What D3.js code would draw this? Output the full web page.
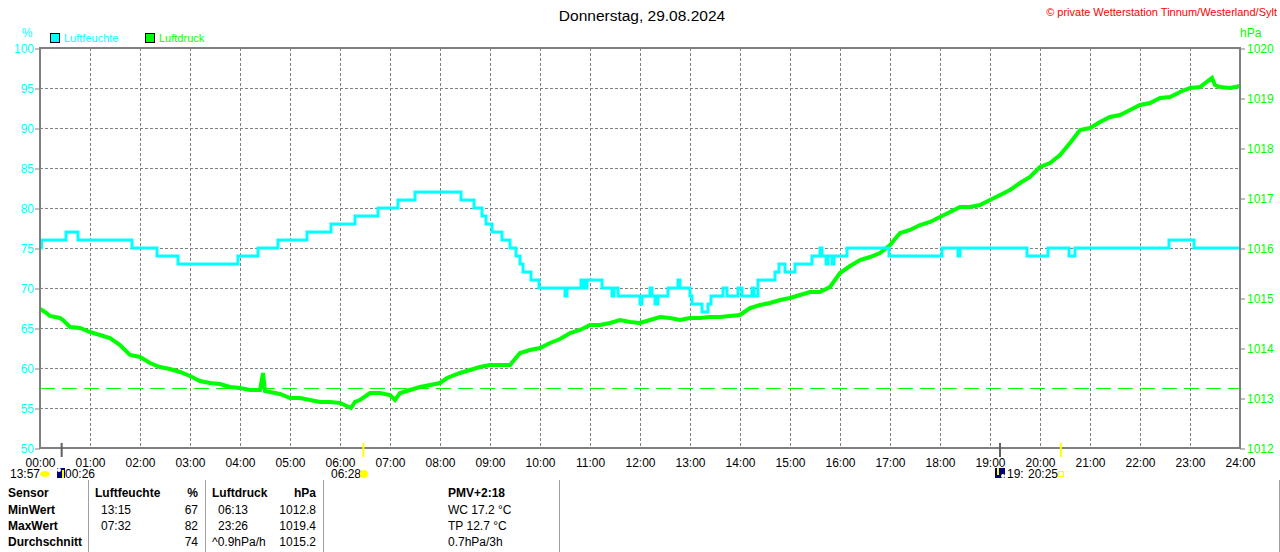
<!DOCTYPE html>
<html>
<head>
<meta charset="utf-8">
<script src="https://cdn.jsdelivr.net/npm/d3@7"></script>
<style>
  body { margin:0; background:#fff; }
  svg text { font-family: "Liberation Sans", Arial, sans-serif; font-size:12px; }
</style>
</head>
<body>
<div id="chart"></div>
<script>

// --- data (hours since midnight, value) ---
var hourLabels = ["00:00","01:00","02:00","03:00","04:00","05:00","06:00","07:00","08:00","09:00","10:00","11:00","12:00",
                  "13:00","14:00","15:00","16:00","17:00","18:00","19:00","20:00","21:00","22:00","23:00","24:00"];
var humTicks = [50,55,60,65,70,75,80,85,90,95,100];
var presTicks = [1012,1013,1014,1015,1016,1017,1018,1019,1020];

// Luftfeuchte %, step values
var humidity = [
  [0,75],[0.03,76],[0.52,77],[0.76,76],[1.84,75],[2.34,74],[2.76,73],[3.96,74],[4.36,75],[4.76,76],
  [5.34,77],[5.82,78],[6.3,79],[6.76,80],[7.16,81],[7.5,82],[8.42,81],[8.68,80],[8.84,79],[8.92,78],
  [9.04,77],[9.24,76],[9.4,75],[9.52,74],[9.6,73],[9.66,72],[9.82,71],[9.98,70],[10.5,69],[10.54,70],
  [10.82,71],[10.88,70],[10.94,71],[11.24,70],[11.44,69],[11.48,70],[11.56,69],[12.0,68],[12.04,69],
  [12.2,70],[12.24,69],[12.3,68],[12.36,69],[12.56,70],[12.76,71],[12.8,70],[13.0,69],[13.04,68],
  [13.24,67],[13.36,68],[13.42,69],[13.66,70],[13.74,69],[13.96,70],[14.04,69],[14.24,70],[14.28,69],
  [14.36,71],[14.7,72],[14.78,73],[14.9,72],[15.1,73],[15.44,74],[15.6,75],[15.64,74],[15.72,73],
  [15.76,74],[15.84,73],[15.88,74],[16.14,75],[16.98,74],[18.04,75],[18.36,74],[18.4,75],[19.74,74],
  [20.16,75],[20.58,74],[20.7,75],[22.58,76],[23.08,75],[24,75]
];

// Luftdruck hPa
var pressure = [
  [0,1014.78],[0.1,1014.72],[0.2,1014.64],[0.4,1014.6],[0.46,1014.56],[0.6,1014.42],[0.8,1014.4],
  [1.0,1014.32],[1.2,1014.26],[1.4,1014.2],[1.6,1014.06],[1.8,1013.86],[2.0,1013.82],[2.2,1013.7],
  [2.4,1013.62],[2.6,1013.58],[2.8,1013.52],[3.0,1013.44],[3.2,1013.34],[3.4,1013.3],[3.6,1013.28],
  [3.8,1013.22],[4.0,1013.2],[4.2,1013.16],[4.4,1013.16],[4.46,1013.5],[4.5,1013.14],[4.6,1013.12],
  [4.8,1013.08],[5.0,1013.0],[5.2,1013.0],[5.4,1012.96],[5.6,1012.92],[5.8,1012.92],[6.0,1012.9],
  [6.22,1012.8],[6.3,1012.92],[6.4,1012.96],[6.6,1013.1],[6.8,1013.1],[7.0,1013.06],[7.1,1012.96],
  [7.2,1013.1],[7.4,1013.16],[7.6,1013.22],[7.8,1013.26],[8.0,1013.3],[8.14,1013.4],[8.4,1013.5],
  [8.6,1013.56],[8.8,1013.62],[9.0,1013.66],[9.2,1013.66],[9.4,1013.66],[9.6,1013.9],[9.8,1013.96],
  [10.0,1014.0],[10.2,1014.1],[10.4,1014.18],[10.6,1014.3],[10.8,1014.36],[11.0,1014.46],[11.2,1014.46],
  [11.4,1014.5],[11.6,1014.56],[11.8,1014.52],[12.0,1014.5],[12.2,1014.56],[12.4,1014.62],[12.6,1014.6],
  [12.8,1014.56],[13.0,1014.6],[13.2,1014.6],[13.4,1014.62],[13.6,1014.62],[13.8,1014.64],[14.0,1014.66],
  [14.2,1014.8],[14.4,1014.86],[14.6,1014.9],[14.8,1014.96],[15.0,1015.0],[15.2,1015.06],[15.4,1015.12],
  [15.6,1015.12],[15.8,1015.22],[16.0,1015.5],[16.2,1015.64],[16.4,1015.76],[16.6,1015.82],[16.8,1015.9],
  [17.0,1016.06],[17.2,1016.3],[17.4,1016.36],[17.6,1016.46],[17.8,1016.52],[18.0,1016.62],[18.2,1016.72],
  [18.4,1016.82],[18.6,1016.82],[18.8,1016.86],[19.0,1016.96],[19.2,1017.06],[19.4,1017.16],[19.6,1017.3],
  [19.8,1017.42],[20.0,1017.62],[20.2,1017.7],[20.4,1017.86],[20.6,1018.1],[20.8,1018.36],[21.0,1018.4],
  [21.2,1018.52],[21.4,1018.62],[21.6,1018.66],[21.8,1018.76],[22.0,1018.86],[22.2,1018.9],[22.4,1019.0],
  [22.6,1019.02],[22.8,1019.12],[23.0,1019.2],[23.2,1019.22],[23.44,1019.4],[23.5,1019.26],[23.6,1019.22],
  [23.8,1019.2],[24,1019.24]
];

var refPressure = 1013.2;

// sun / moon events on time axis
var events = [
  {h:0.4333, color:"#606060"},
  {h:6.4667, color:"#ffff00"},
  {h:19.2,   color:"#606060"},
  {h:20.4167,color:"#ffff00"}
];

// table rows
var tableRows = [
  ["Sensor","Luftfeuchte","%","Luftdruck","hPa","PMV+2:18"],
  ["MinWert","13:15","67","06:13","1012.8","WC 17.2 °C"],
  ["MaxWert","07:32","82","23:26","1019.4","TP 12.7 °C"],
  ["Durchschnitt","","74","^0.9hPa/h","1015.2","0.7hPa/3h"]
];

var W = 1280, H = 552;
var svg = d3.select("#chart").append("svg").attr("width",W).attr("height",H);
svg.append("rect").attr("width",W).attr("height",H).attr("fill","#fff");

var x = d3.scaleLinear().domain([0,24]).range([40,1240]);
var yH = d3.scaleLinear().domain([50,100]).range([448,48]);
var yP = d3.scaleLinear().domain([1012,1020]).range([448,48]);

// grid
svg.append("g").selectAll("line").data(d3.range(1,24)).enter().append("line")
  .attr("x1",function(d){return x(d)+0.5;}).attr("x2",function(d){return x(d)+0.5;})
  .attr("y1",48).attr("y2",448)
  .attr("stroke","#808080").attr("stroke-dasharray","3,2");
svg.append("g").selectAll("line").data(humTicks.slice(1,-1)).enter().append("line")
  .attr("x1",40).attr("x2",1240)
  .attr("y1",function(d){return yH(d)+0.5;}).attr("y2",function(d){return yH(d)+0.5;})
  .attr("stroke","#808080").attr("stroke-dasharray","3,2");

// left axis (humidity)
var axL = svg.append("g").attr("transform","translate(40,0.5)")
  .call(d3.axisLeft(yH).tickValues(humTicks).tickSize(5).tickPadding(1));
axL.select(".domain").remove();
axL.selectAll("line").attr("stroke","#808080");
axL.selectAll("text").attr("fill","#00ffff").style("font-size","12px");

// right axis (pressure)
var axR = svg.append("g").attr("transform","translate(1240,0.5)")
  .call(d3.axisRight(yP).tickValues(presTicks).tickSize(5).tickPadding(2).tickFormat(d3.format("d")));
axR.select(".domain").remove();
axR.selectAll("line").attr("stroke","#808080");
axR.selectAll("text").attr("fill","#00ff00").style("font-size","12px");

// bottom axis labels
var axB = svg.append("g").attr("transform","translate(0,449)")
  .call(d3.axisBottom(x).tickValues(d3.range(0,25)).tickSize(0).tickPadding(9)
    .tickFormat(function(d,i){return hourLabels[i];}));
axB.select(".domain").remove();
axB.selectAll("text").attr("fill","#000").style("font-size","12px");

// reference line
var yRef = Math.round(yP(refPressure)) + 0.5;
svg.append("line").attr("x1",40).attr("x2",1240)
  .attr("y1",yRef).attr("y2",yRef)
  .attr("stroke","#00ff00").attr("stroke-width",1.2).attr("stroke-dasharray","15,7");

// lines
var lineH = d3.line().curve(d3.curveStepAfter)
  .x(function(d){return x(d[0]);}).y(function(d){return yH(d[1]);});
var lineP = d3.line()
  .x(function(d){return x(d[0]);}).y(function(d){return yP(d[1]);});

svg.append("path").datum(pressure).attr("d",lineP)
  .attr("fill","none").attr("stroke","#00ff00").attr("stroke-width",4);
svg.append("path").datum(humidity).attr("d",lineH)
  .attr("fill","none").attr("stroke","#00ffff").attr("stroke-width",3);

// frame
svg.append("rect").attr("x",40).attr("y",48).attr("width",1200).attr("height",400)
  .attr("fill","none").attr("stroke","#808080").attr("stroke-width",2);

// event ticks
svg.append("g").selectAll("line").data(events).enter().append("line")
  .attr("x1",function(d){return x(d.h);}).attr("x2",function(d){return x(d.h);})
  .attr("y1",443).attr("y2",457)
  .attr("stroke",function(d){return d.color;}).attr("stroke-width",2);

// titles
svg.append("text").attr("x",642).attr("y",21).attr("text-anchor","middle")
  .style("font-size","15.5px").text("Donnerstag, 29.08.2024");
svg.append("text").attr("x",1277).attr("y",16).attr("text-anchor","end")
  .attr("fill","#ff0000").style("font-size","11px")
  .text("© private Wetterstation Tinnum/Westerland/Sylt");
svg.append("text").attr("x",27).attr("y",37).attr("text-anchor","middle")
  .attr("fill","#00ffff").text("%");
svg.append("text").attr("x",1240).attr("y",37).attr("fill","#00ff00").text("hPa");

// legend
svg.append("rect").attr("x",50.5).attr("y",33.5).attr("width",9).attr("height",9)
  .attr("fill","#00ffff").attr("stroke","#000");
svg.append("text").attr("x",64).attr("y",42).attr("fill","#00ffff").style("font-size","11px").text("Luftfeuchte");
svg.append("rect").attr("x",145.5).attr("y",33.5).attr("width",9).attr("height",9)
  .attr("fill","#00ff00").attr("stroke","#000");
svg.append("text").attr("x",159).attr("y",42).attr("fill","#00ff00").style("font-size","11px").text("Luftdruck");

// sun / moon labels under axis
svg.append("text").attr("x",10).attr("y",478).text("13:57");
svg.append("ellipse").attr("cx",45).attr("cy",474).attr("rx",5).attr("ry",3).attr("fill","#ffff00");
svg.append("rect").attr("x",57).attr("y",468).attr("width",8).attr("height",10).attr("fill","#000080");
svg.append("circle").attr("cx",59).attr("cy",470).attr("r",2).attr("fill","#fff");
svg.append("line").attr("x1",63).attr("x2",63).attr("y1",470).attr("y2",478).attr("stroke","#ffff00").attr("stroke-width",2);
svg.append("text").attr("x",65).attr("y",478).text("00:26");
svg.append("text").attr("x",331).attr("y",478).text("06:28");
svg.append("circle").attr("cx",364).attr("cy",474).attr("r",4).attr("fill","#ffff00");
svg.append("rect").attr("x",995).attr("y",468).attr("width",10).attr("height",10).attr("fill","#000080");
svg.append("line").attr("x1",998).attr("x2",998).attr("y1",468).attr("y2",475).attr("stroke","#ffff00").attr("stroke-width",2);
svg.append("circle").attr("cx",1003).attr("cy",476).attr("r",2).attr("fill","#fff");
svg.append("text").attr("x",1007).attr("y",478).text("19:");
svg.append("text").attr("x",1028).attr("y",478).text("20:25");
svg.append("rect").attr("x",1058.5).attr("y",471.5).attr("width",5).attr("height",5)
  .attr("fill","none").attr("stroke","#ffff00");

// table
var colX = [8,101,198,218,316,448];
var colAnchor = ["start","start","end","start","end","start"];
var rowY = [497,514,530,546];
tableRows.forEach(function(row,r){
  row.forEach(function(cell,c){
    var cx = colX[c];
    if (r==0 && c==1) cx = 95;
    if (r==0 && c==3) cx = 212;
    if (r==3 && c==3) cx = 212;
    svg.append("text").attr("x",cx).attr("y",rowY[r]).attr("text-anchor",colAnchor[c])
      .style("font-weight",(r==0 || c==0) ? "bold" : "normal")
      .text(cell);
  });
});
svg.append("g").selectAll("line").data([88,205,323,559,1279]).enter().append("line")
  .attr("x1",function(d){return d+0.5;}).attr("x2",function(d){return d+0.5;})
  .attr("y1",480).attr("y2",552).attr("stroke","#a0a0a0");

</script>
</body>
</html>
